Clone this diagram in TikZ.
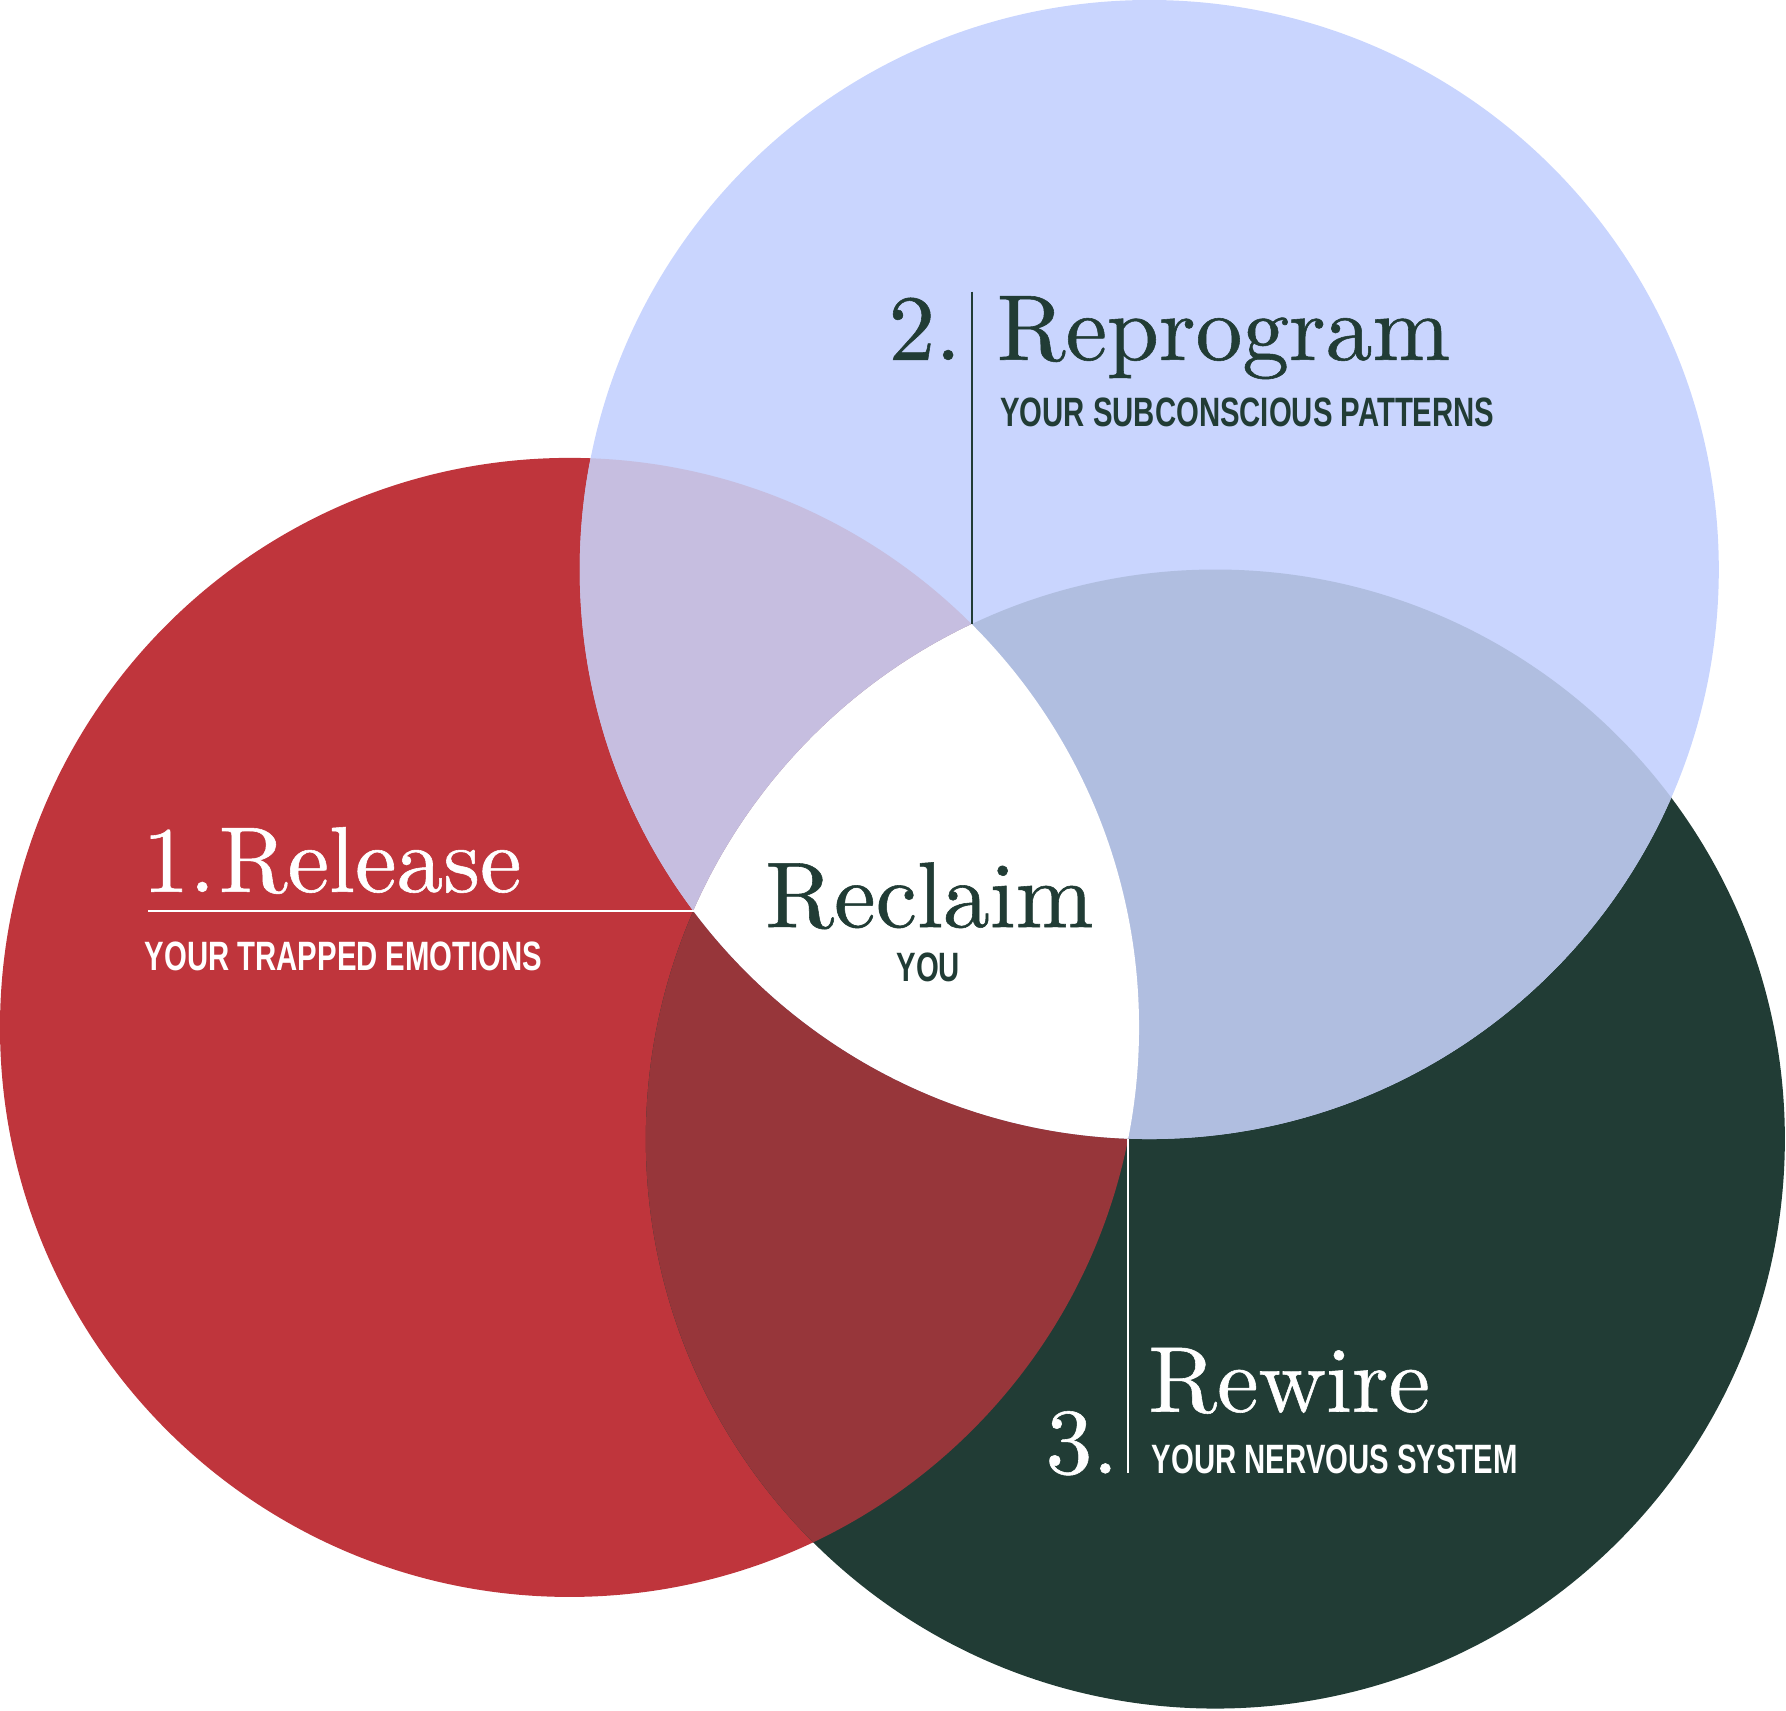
\documentclass[tikz,border=0pt]{standalone}
\usepackage{fontspec}
\newfontfamily\condsans[FakeStretch=0.715]{Liberation Sans Bold}
\newfontfamily\dispserif[FakeBold=0.6]{lmroman10-regular.otf}
\definecolor{cRed}{HTML}{BF353C}
\definecolor{cLav}{HTML}{C9D5FE}
\definecolor{cGreen}{HTML}{213C35}
\definecolor{cRL}{HTML}{C6BEE0}
\definecolor{cGL}{HTML}{B0BEE0}
\definecolor{cRG}{HTML}{97363A}
\definecolor{cText}{HTML}{213C35}
\tikzset{
  lblSerif/.style={inner sep=0pt, font=\dispserif\fontsize{82}{90}\selectfont},
  lblSans/.style={inner sep=0pt, font=\condsans\fontsize{36}{40}\selectfont},
  divDark/.style={draw=cText, line width=1.3pt},
  divLight/.style={draw=white, line width=1.3pt},
}
\begin{document}
\begin{tikzpicture}[x=1pt,y=-1pt]
\useasboundingbox (0,0) rectangle (1568,1501.3);
\coordinate (cR) at (500,902);
\coordinate (cL) at (1009,500);
\coordinate (cG) at (1067,1000);
\def\rr{500pt}
% circles
\fill[cRed] (cR) circle[radius=\rr];
\fill[cGreen] (cG) circle[radius=\rr];
\fill[cLav] (cL) circle[radius=\rr];
% pairwise overlaps
\begin{scope}
  \clip (cR) circle[radius=\rr];
  \fill[cRL] (cL) circle[radius=\rr];
  \fill[cRG] (cG) circle[radius=\rr];
\end{scope}
\begin{scope}
  \clip (cG) circle[radius=\rr];
  \fill[cGL] (cL) circle[radius=\rr];
\end{scope}
% centre
\begin{scope}
  \clip (cR) circle[radius=\rr];
  \clip (cG) circle[radius=\rr];
  \fill[white] (cL) circle[radius=\rr];
\end{scope}
% divider lines
\coordinate (vTop) at (853.5,548);
\coordinate (vLeft) at (609.5,800);
\coordinate (vBot) at (990.5,1000);
\coordinate (l2top) at (853.5,256);
\coordinate (l1left) at (130,800);
\coordinate (l3bot) at (990.5,1293.5);
\draw[divDark] (l2top) -- (vTop);
\draw[divLight] (l1left) -- (vLeft);
\draw[divLight] (vBot) -- (l3bot);
% texts
\node[lblSerif, anchor=base east, text=cText] (n2) at (844,316) {2.};
\node[lblSerif, anchor=base west, text=cText] (t2) at (875,316) {Reprogram};
\node[lblSans, anchor=base west, text=cText] (s2) at (878,374.6) {YOUR SUBCONSCIOUS PATTERNS};
\node[lblSerif, anchor=base west, text=white] (t1) at (125,783) {1.\kern0.04em Release};
\node[lblSans, anchor=base west, text=white] (s1) at (127,851.7) {YOUR TRAPPED EMOTIONS};
\node[lblSerif, anchor=base, text=cText] (tc) at (816,814) {Reclaim};
\node[lblSans, anchor=base, text=cText] (sc) at (815,862) {YOU};
\node[lblSerif, anchor=base west, text=white] (t3) at (1008,1239.4) {Rewire};
\node[lblSerif, anchor=base east, text=white] (n3) at (982,1293.5) {3.};
\node[lblSans, anchor=base west, text=white] (s3) at (1011,1293.5) {YOUR NERVOUS SYSTEM};
\end{tikzpicture}
\end{document}
